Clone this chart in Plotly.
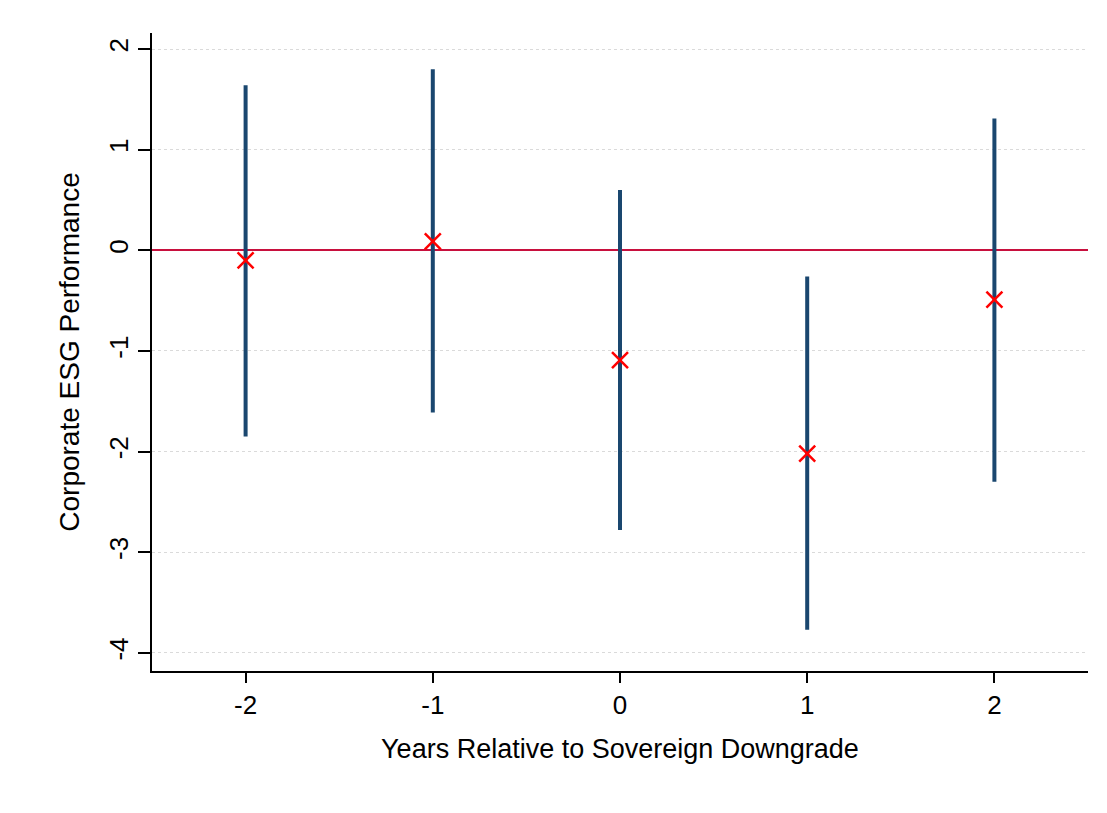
import plotly.graph_objects as go

years = [-2, -1, 0, 1, 2]
estimates = [-0.10, 0.09, -1.09, -2.02, -0.49]
ci_low = [-1.85, -1.61, -2.78, -3.77, -2.30]
ci_high = [1.64, 1.80, 0.60, -0.26, 1.31]
y_ticks = [-4, -3, -2, -1, 0, 1, 2]
x_ticks = [-2, -1, 0, 1, 2]

err_plus = [h - e for h, e in zip(ci_high, estimates)]
err_minus = [e - l for e, l in zip(estimates, ci_low)]

font_family = "Liberation Sans, Arial, sans-serif"

fig = go.Figure()
fig.add_trace(go.Scatter(
    x=years, y=estimates, mode="markers",
    marker=dict(symbol="x-thin", size=16, color="#ff0000",
                line=dict(color="#ff0000", width=2.5)),
    error_y=dict(type="data", symmetric=False, array=err_plus, arrayminus=err_minus,
                 thickness=4, width=0, color="#1a476f"),
    showlegend=False,
))

fig.update_layout(
    width=1107, height=813,
    margin=dict(l=152, r=19, t=33, b=142),
    paper_bgcolor="white", plot_bgcolor="white",
    font=dict(family=font_family, size=26, color="black"),
    xaxis=dict(
        range=[-2.5, 2.5], tickvals=x_ticks, ticktext=[str(v) for v in x_ticks],
        showgrid=False, zeroline=False,
        showline=True, linecolor="black", linewidth=1.5,
        ticks="outside", ticklen=10, tickwidth=1.5, tickcolor="black",
        title=dict(text="Years Relative to Sovereign Downgrade", standoff=20,
                   font=dict(size=27)),
        tickfont=dict(size=26),
    ),
    yaxis=dict(
        range=[-4.18, 2.16], tickvals=y_ticks, ticktext=[str(v) for v in y_ticks],
        showgrid=True, gridcolor="#dadada", griddash="dot", gridwidth=1,
        zeroline=True, zerolinecolor="#c8103e", zerolinewidth=2,
        showline=True, linecolor="black", linewidth=1.5,
        ticks="outside", ticklen=12, tickwidth=1.5, tickcolor="black",
        tickangle=-90,
        title=dict(text="Corporate ESG Performance", standoff=16, font=dict(size=28)),
        tickfont=dict(size=26),
    ),
)

fig.write_html("out.html", config={"displayModeBar": False},
               post_script="document.body.style.margin='0';")
